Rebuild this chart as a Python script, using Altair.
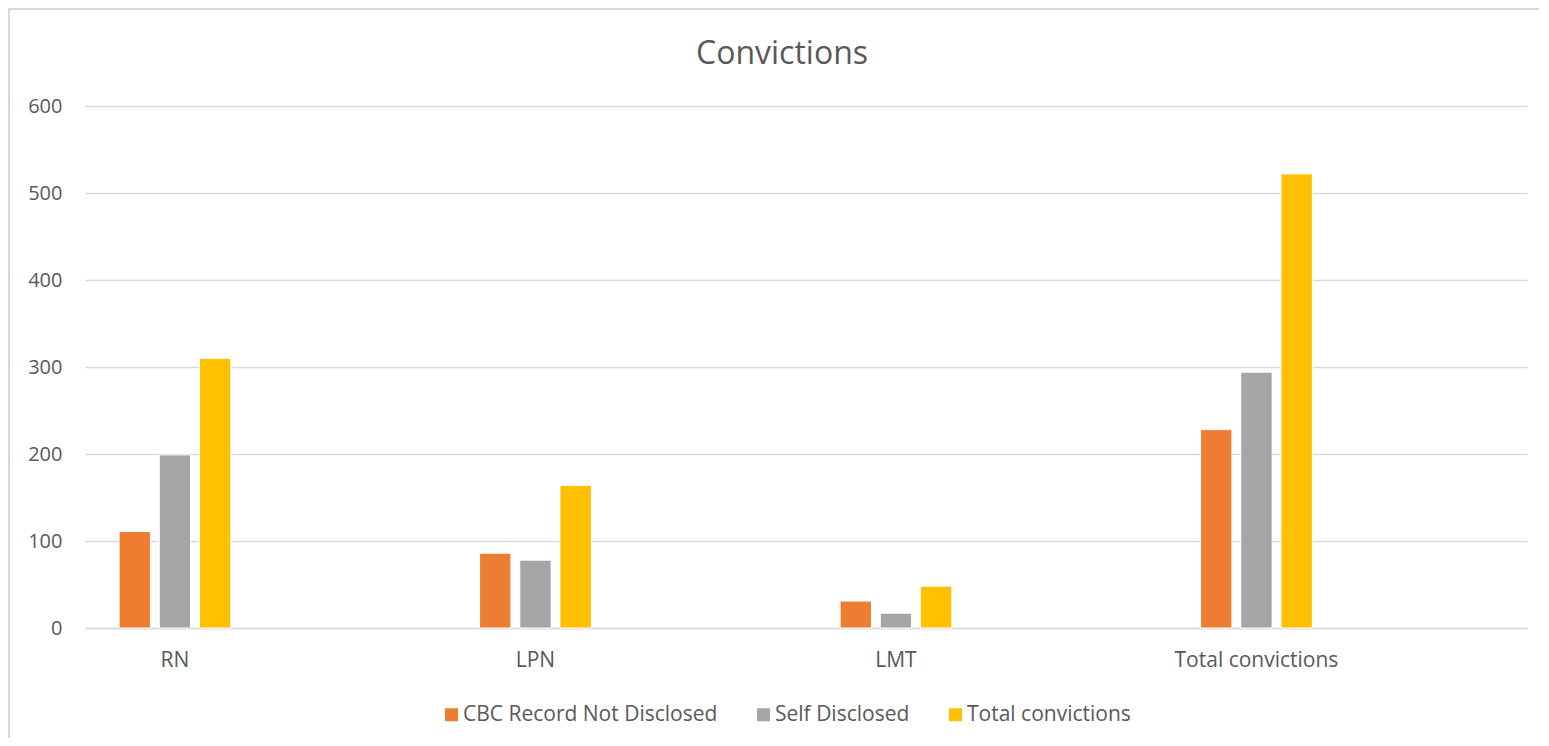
import altair as alt
import pandas as pd

categories = ["RN", "LPN", "LMT", "Total convictions"]
series = ["CBC Record Not Disclosed", "Self Disclosed", "Total convictions"]
cbc_not_disclosed = [111, 86, 31, 228]
self_disclosed = [199, 78, 17, 294]
total_convictions = [310, 164, 48, 522]
y_ticks = [0, 100, 200, 300, 400, 500, 600]
colors = ["#ED7D31", "#A5A5A5", "#FFC000"]
title_text = ["Convictions"]

rows = []
for s, vals in zip(series, [cbc_not_disclosed, self_disclosed, total_convictions]):
    for c, v in zip(categories, vals):
        rows.append({"category": c, "series": s, "value": v})
df = pd.DataFrame(rows)

FONT = "Open Sans"
TXT = "#595959"
W, H = 1442, 522

bars = alt.Chart(df).mark_bar(stroke="white", strokeWidth=1).encode(
    x=alt.X("category:N", sort=categories, title=None,
            scale=alt.Scale(paddingInner=0.69, paddingOuter=0.345, align=0.137),
            axis=alt.Axis(labelAngle=0, ticks=False, tickSize=0, labelPadding=21,
                          labelFontSize=21, labelColor=TXT, labelFont=FONT,
                          labelLimit=400,
                          domainColor="#D9D9D9", domainWidth=1.5, grid=False)),
    xOffset=alt.XOffset("series:N", sort=series,
                        scale=alt.Scale(paddingInner=0.22, paddingOuter=0)),
    y=alt.Y("value:Q", title=None,
            scale=alt.Scale(domain=[0, 600]),
            axis=alt.Axis(values=y_ticks, ticks=False, tickSize=0, domain=False,
                          labelPadding=23, labelFontSize=20, labelColor=TXT,
                          labelFont=FONT, gridColor="#D9D9D9", gridWidth=1.5)),
    color=alt.Color("series:N", sort=series,
                    scale=alt.Scale(domain=series, range=colors),
                    legend=alt.Legend(title=None, orient="none", direction="horizontal",
                                      legendX=356, legendY=598,
                                      symbolType="square", symbolSize=169,
                                      symbolStrokeWidth=0, labelFontSize=21,
                                      labelColor=TXT, labelFont=FONT, labelOffset=1,
                                      labelLimit=500, columnPadding=35)),
)

frame_df = pd.DataFrame({"k": [0]})
frame_top = alt.Chart(frame_df).mark_rule(
    stroke="#D9D9D9", strokeWidth=2, clip=False
).encode(
    x=alt.value(-77), x2=alt.value(W + 12), y=alt.value(-97),
)
frame_left = alt.Chart(frame_df).mark_rule(
    stroke="#D9D9D9", strokeWidth=2, clip=False
).encode(
    x=alt.value(-76), y=alt.value(-98), y2=alt.value(H + 110),
)

title = alt.Chart(pd.DataFrame({"t": title_text})).mark_text(
    font=FONT, fontSize=32, color=TXT, align="center", baseline="middle"
).encode(
    text="t:N", x=alt.value(697), y=alt.value(-52),
)

chart = alt.layer(frame_top, frame_left, bars, title).properties(
    width=W, height=H,
    autosize=alt.AutoSizeParams(type="none"),
    padding={"left": 77, "top": 98, "right": 14, "bottom": 110},
).configure_view(stroke=None)

chart.save("out.html", embed_options={"renderer": "svg", "actions": False})
